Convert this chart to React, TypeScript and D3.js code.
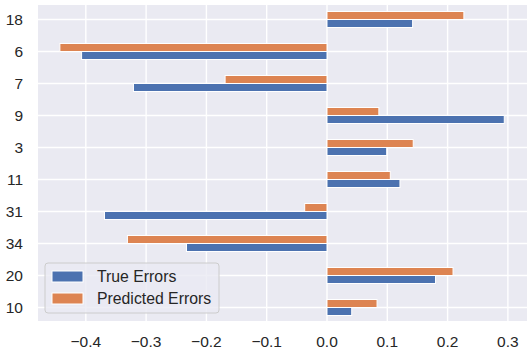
import React from "react";
import * as d3 from "d3";

const categories = ["18", "6", "7", "9", "3", "11", "31", "34", "20", "10"];
const trueErrors = [0.142, -0.407, -0.321, 0.294, 0.099, 0.121, -0.369, -0.233, 0.18, 0.041];
const predictedErrors = [0.227, -0.443, -0.169, 0.086, 0.143, 0.105, -0.037, -0.331, 0.209, 0.083];
const xTicks = [-0.4, -0.3, -0.2, -0.1, 0.0, 0.1, 0.2, 0.3];
const seriesNames = ["True Errors", "Predicted Errors"];

const W = 531;
const H = 351;
const left = 38;
const right = 527;
const top = 5;
const bottom = 321;

const BLUE = "#4c72b0";
const ORANGE = "#dd8452";
const FONT = "'Liberation Sans', Arial, sans-serif";

export default function App() {
  const x = d3.scaleLinear().domain([-0.4793, 0.3317]).range([left, right]);
  const y = d3.scaleLinear().domain([-0.453, 9.422]).range([top, bottom]);
  const barH = y(0.25) - y(0);
  const fmt = (v: number) => (v < 0 ? "\u2212" : "") + d3.format(".1f")(Math.abs(v));

  return (
    <svg width={W} height={H} style={{ position: "absolute", left: 0, top: 0 }}>
      <rect x={left} y={top} width={right - left} height={bottom - top} fill="#eaeaf2" />
      {xTicks.map((t) => (
        <line key={"gx" + t} x1={x(t)} x2={x(t)} y1={top} y2={bottom} stroke="#fff" strokeWidth={1.4} />
      ))}
      {categories.map((c, i) => (
        <line key={"gy" + c} x1={left} x2={right} y1={y(i)} y2={y(i)} stroke="#fff" strokeWidth={1.4} />
      ))}
      {categories.map((c, i) => {
        const p = predictedErrors[i];
        const t = trueErrors[i];
        return (
          <g key={"b" + c}>
            <rect
              x={Math.min(x(0), x(p))}
              y={y(i) - barH}
              width={Math.abs(x(p) - x(0))}
              height={barH}
              fill={ORANGE}
              stroke="#fff"
              strokeWidth={1}
            />
            <rect
              x={Math.min(x(0), x(t))}
              y={y(i)}
              width={Math.abs(x(t) - x(0))}
              height={barH}
              fill={BLUE}
              stroke="#fff"
              strokeWidth={1}
            />
          </g>
        );
      })}
      {categories.map((c, i) => (
        <text
          key={"ly" + c}
          x={23}
          y={y(i)}
          dy="0.36em"
          textAnchor="end"
          fontFamily={FONT}
          fontSize={15.5}
          fill="#262626"
        >
          {c}
        </text>
      ))}
      {xTicks.map((t) => (
        <text
          key={"lx" + t}
          x={x(t)}
          y={346.7}
          textAnchor="middle"
          fontFamily={FONT}
          fontSize={15.5}
          fill="#262626"
        >
          {fmt(t)}
        </text>
      ))}
      <g>
        <rect x={45} y={263} width={174} height={50} rx={3} fill="#eaeaf2" fillOpacity={0.8} stroke="#cccccc" strokeWidth={1} />
        {seriesNames.map((s, k) => (
          <g key={s}>
            <rect x={52} y={271 + k * 22} width={31} height={11} fill={k === 0 ? BLUE : ORANGE} stroke="#fff" strokeWidth={1} />
            <text x={97} y={281.7 + k * 22} fontFamily={FONT} fontSize={15.8} fill="#262626">
              {s}
            </text>
          </g>
        ))}
      </g>
    </svg>
  );
}
